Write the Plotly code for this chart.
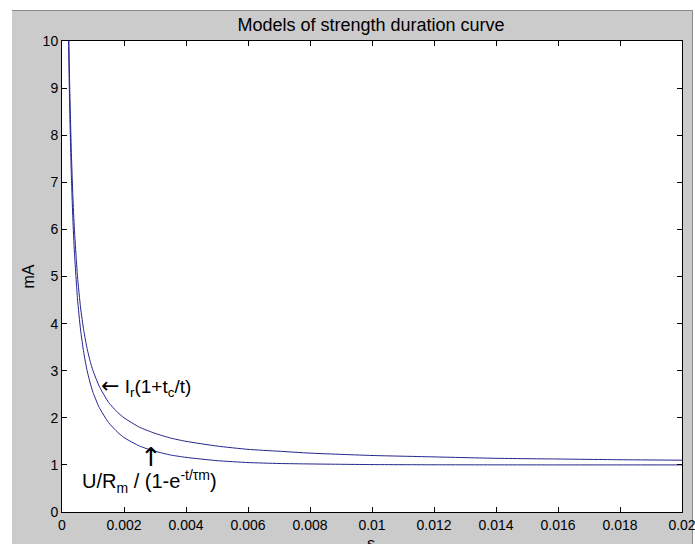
import plotly.graph_objects as go

# time samples (s)
t_vals = [0.0002, 0.00022, 0.00025, 0.0003, 0.00035, 0.0004, 0.0005, 0.0006, 0.0007,
          0.0008, 0.0009, 0.001, 0.0012, 0.0015, 0.0018, 0.002, 0.0025, 0.003, 0.0035,
          0.004, 0.005, 0.006, 0.007, 0.008, 0.01, 0.012, 0.014, 0.016, 0.018, 0.02]

# Lapicque curve I_r(1+t_c/t) (mA)
lapicque = [11.0, 10.1, 9.0, 7.67, 6.71, 6.0, 5.0, 4.33, 3.86,
            3.5, 3.22, 3.0, 2.67, 2.33, 2.11, 2.0, 1.8, 1.67, 1.57,
            1.5, 1.4, 1.33, 1.29, 1.25, 1.2, 1.17, 1.14, 1.125, 1.11, 1.1]

# Exponential curve U/R_m / (1-e^{-t/tau_m}) (mA)
exponential = [10.51, 9.59, 8.51, 7.18, 6.22, 5.52, 4.52, 3.86, 3.39,
               3.03, 2.76, 2.54, 2.22, 1.90, 1.69, 1.58, 1.40, 1.29, 1.21,
               1.16, 1.09, 1.05, 1.03, 1.02, 1.007, 1.0025, 1.001, 1.0, 1.0, 1.0]

x_ticks = [0, 0.002, 0.004, 0.006, 0.008, 0.01, 0.012, 0.014, 0.016, 0.018, 0.02]
x_tick_text = ["0", "0.002", "0.004", "0.006", "0.008", "0.01", "0.012", "0.014", "0.016", "0.018", "0.02"]
y_ticks = [0, 1, 2, 3, 4, 5, 6, 7, 8, 9, 10]

FONT = "Liberation Sans, Arial, Helvetica, sans-serif"
ARROW = "<span style='font-family:DejaVu Sans; font-size:{}px'>{}</span>"
LINE = "#23238f"
GRAY = "#cbcbcb"

# the page body margin is removed below, so figure coordinates equal page coordinates
OFF = 0
PL, PT, PR, PB = 62, 41, 682, 512        # plot area on the page
W, H = 695, 544
PW, PH = PR - PL, PB - PT

fig = go.Figure()
fig.add_trace(go.Scatter(x=t_vals, y=lapicque, mode="lines",
                         line=dict(color=LINE, width=1, shape="spline", smoothing=0.5),
                         showlegend=False, hoverinfo="skip"))
fig.add_trace(go.Scatter(x=t_vals, y=exponential, mode="lines",
                         line=dict(color=LINE, width=1, shape="spline", smoothing=0.5),
                         showlegend=False, hoverinfo="skip"))

axis_common = dict(showgrid=False, zeroline=False, showline=True, linecolor="black",
                   linewidth=1, mirror="ticks", ticks="inside", ticklen=5,
                   tickcolor="black", automargin=False, ticklabeloverflow="allow",
                   tickfont=dict(family=FONT, size=14, color="black"))

fig.update_xaxes(range=[0, 0.02], tickvals=x_ticks, ticktext=x_tick_text, **axis_common)
fig.update_yaxes(range=[0, 10], tickvals=y_ticks, **axis_common)


def px_x(p):
    return (p - PL) / PW


def px_y(p):
    return (PB - p) / PH


fig.update_layout(
    width=W, height=H,
    margin=dict(l=PL - OFF, r=W - PR + OFF, t=PT - OFF, b=H - PB + OFF, autoexpand=False),
    paper_bgcolor=GRAY, plot_bgcolor="white",
    font=dict(family=FONT, color="black"),
    title=dict(text="Models of strength duration curve", x=px_x(371), xref="paper",
               xanchor="center", y=1 - (25 - OFF) / H, yanchor="middle",
               font=dict(family=FONT, size=18, color="black")),
    shapes=[
        dict(type="rect", xref="paper", yref="paper", x0=-0.2, x1=1.2,
             y0=px_y(10), y1=1.2, fillcolor="white", line=dict(width=0), layer="below"),
        dict(type="rect", xref="paper", yref="paper", x0=-0.2, x1=px_x(12),
             y0=-0.2, y1=1.2, fillcolor="white", line=dict(width=0), layer="below"),
        dict(type="rect", xref="paper", yref="paper", x0=px_x(693), x1=1.2,
             y0=-0.2, y1=1.2, fillcolor="white", line=dict(width=0), layer="below"),
        dict(type="line", xref="paper", yref="paper", x0=px_x(12), x1=px_x(693),
             y0=px_y(10.5), y1=px_y(10.5), line=dict(color="#8a8a8a", width=1), layer="below"),
        dict(type="line", xref="paper", yref="paper", x0=px_x(692.5), x1=px_x(692.5),
             y0=-0.2, y1=px_y(10.5), line=dict(color="#8a8a8a", width=1), layer="below"),
    ],
    annotations=[
        dict(text=ARROW.format(22, "←") + " I<sub>r</sub>(1+t<sub>c</sub>/t)", x=0.00118, y=2.66,
             xref="x", yref="y", xanchor="left", yanchor="middle", showarrow=False,
             font=dict(family=FONT, size=19, color="black")),
        dict(text=ARROW.format(26, "↑"), x=0.00287, y=1.17, xref="x", yref="y",
             xanchor="center", yanchor="middle", showarrow=False,
             font=dict(family=FONT, size=19, color="black")),
        dict(text="U/R<sub>m</sub> / (1-e<sup>-t/τm</sup>)", x=0.00058, y=0.64, xref="x", yref="y",
             xanchor="left", yanchor="middle", showarrow=False,
             font=dict(family=FONT, size=20, color="black")),
        dict(text="mA", x=px_x(28), y=0.5, xref="paper", yref="paper",
             xanchor="center", yanchor="middle", textangle=-90, showarrow=False,
             font=dict(family=FONT, size=16, color="black")),
        dict(text="s", x=px_x(371), y=px_y(533), xref="paper", yref="paper",
             xanchor="center", yanchor="top", showarrow=False,
             font=dict(family=FONT, size=16, color="black")),
    ],
)

fig.write_html("out.html",
               config={"displayModeBar": False},
               post_script="document.body.style.margin='0';"
                           "document.documentElement.style.overflow='hidden';")
